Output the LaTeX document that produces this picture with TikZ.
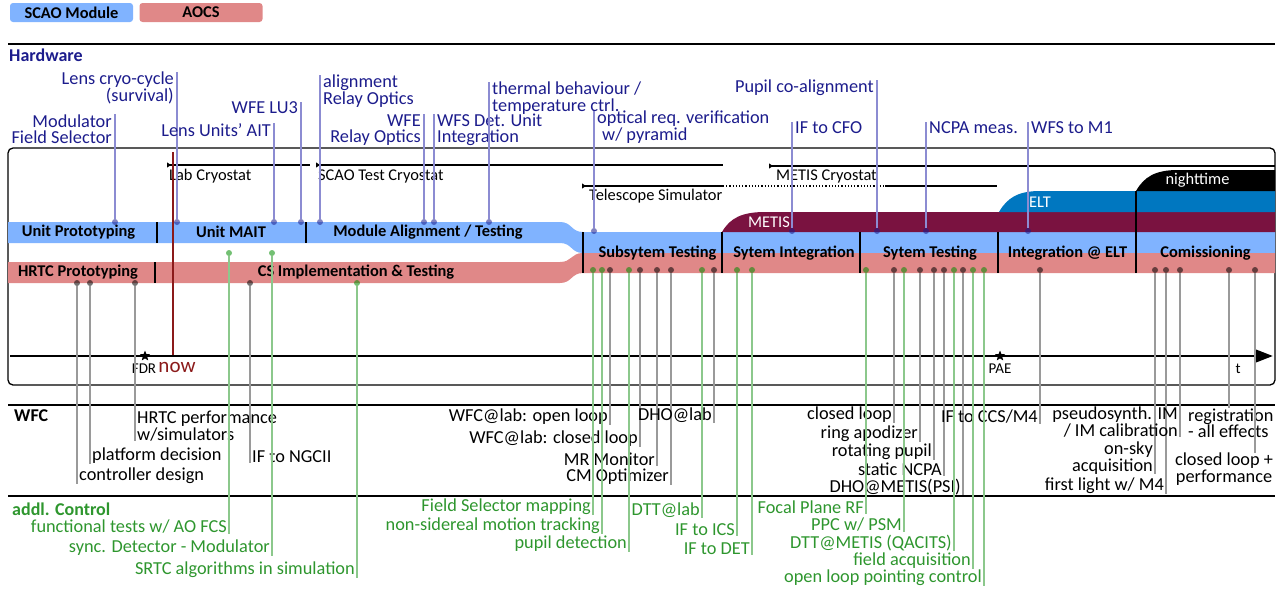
\documentclass[tikz,border=0pt]{standalone}
\usepackage{fontspec}
\setmainfont{Carlito}
\usetikzlibrary{arrows.meta,shapes.geometric}
\definecolor{scao}{HTML}{80B3FF}
\definecolor{aocs}{HTML}{E08888}
\definecolor{metis}{HTML}{7A1240}
\definecolor{elt}{HTML}{0077C0}
\definecolor{hwtext}{HTML}{1C1C8C}
\definecolor{hwline}{HTML}{8C8CD2}
\definecolor{wfcline}{HTML}{9A9A9A}
\definecolor{ctltext}{HTML}{2E962E}
\definecolor{ctlline}{HTML}{8CC88C}
\definecolor{nowred}{HTML}{8B1A1A}
\newcommand{\lblfont}{\fontsize{18.3}{16.5}\selectfont}
\newcommand{\barfont}{\fontsize{16.4}{16}\selectfont\bfseries}
\newcommand{\headfont}{\fontsize{18}{18}\selectfont\bfseries}
\tikzset{
  lbl/.style={inner sep=0pt,font=\lblfont},
  hwlbl/.style={lbl,text=hwtext},
  wfclbl/.style={lbl,text=black},
  ctllbl/.style={lbl,text=ctltext},
  dot/.style={circle,inner sep=0pt,minimum size=6pt,fill opacity=0.55},
  hwpin/.style={draw=hwline,line width=1.2pt},
  wfcpin/.style={draw=wfcline,line width=1.2pt},
  ctlpin/.style={draw=ctlline,line width=1.2pt},
  barlbl/.style={inner sep=0pt,font=\barfont},
  phaselbl/.style={inner sep=0pt,font=\fontsize{16.4}{16}\selectfont,text=white},
  period/.style={line width=1.2pt,{Triangle[length=4pt,width=5pt,reversed]}-},
  periodlbl/.style={inner sep=0pt,anchor=west,font=\fontsize{16.4}{16}\selectfont},
  rule/.style={line width=1.3pt},
  legendbox/.style={rounded corners=3pt,minimum width=123pt,minimum height=19pt,inner sep=0pt,font=\barfont},
  milestone/.style={star,star points=5,star point ratio=2.3,fill=black,inner sep=0pt,minimum size=11pt},
}

\begin{document}
\begin{tikzpicture}[x=1pt,y=-1pt]
  \useasboundingbox (0,0) rectangle (1287,589);
  \node[legendbox,fill=scao] (lgscao) at (71.5,12.5) {SCAO Module};
  \node[legendbox,fill=aocs] (lgaocs) at (201,12.5) {AOCS};

  \draw[rule] (8,44) -- (1275,44);
  \node[anchor=west,inner sep=0pt,font=\headfont,text=hwtext] (hwhead) at (9,55) {Hardware};
  \draw[rule,rounded corners=5pt] (8,148) rectangle (1275,385);
  \draw[rule] (8,405) -- (1275,405);
  \node[anchor=west,inner sep=0pt,font=\headfont] (wfchead) at (14,416) {WFC};
  \draw[rule] (8,496) -- (1275,496);
  \node[anchor=west,inner sep=0pt,font=\headfont,text=ctltext] (ctlhead) at (12,509) {addl. Control};

  % bars
  \fill[scao] (8,222) -- (560,222) .. controls (572,222) and (571,232) .. (583,232) -- (1275,232)
    -- (1275,253) -- (583,253) .. controls (571,253) and (572,243) .. (560,243) -- (8,243) -- cycle;
  \fill[aocs] (8,262) -- (560,262) .. controls (572,262) and (571,253) .. (583,253) -- (1275,253)
    -- (1275,273) -- (583,273) .. controls (571,273) and (572,283) .. (560,283) -- (8,283) -- cycle;
  \fill[metis] (722,232) .. controls (730,218) and (742,212) .. (765,212) -- (1275,212) -- (1275,232) -- cycle;
  \fill[elt] (999,212) .. controls (1007,198) and (1018,191) .. (1040,191) -- (1275,191) -- (1275,212) -- cycle;
  \fill[black] (1136,191) .. controls (1144,177) and (1155,170) .. (1178,170) -- (1275,170) -- (1275,191) -- cycle;
  \draw[rule] (157,222) -- (157,243) (306,222) -- (306,243) (155,262) -- (155,283);
  \foreach \x in {583,722,860,998}
    \draw[rule] (\x,232) -- (\x,273);
  \draw[rule] (1136,191) -- (1136,273);

  \node[barlbl] (up) at (78.5,232) {Unit Prototyping};
  \node[barlbl] (umait) at (231,232) {Unit MAIT};
  \node[barlbl] (modal) at (428,232) {Module Alignment / Testing};
  \node[barlbl] (hrtc) at (78,272) {HRTC Prototyping};
  \node[barlbl] (csimpl) at (356,272) {CS Implementation \& Testing};
  \node[barlbl] (subsys) at (657.5,253) {Subsytem Testing};
  \node[barlbl] (sysint) at (794,253) {Sytem Integration};
  \node[barlbl] (systest) at (930,253) {Sytem Testing};
  \node[barlbl] (eltint) at (1067.5,253) {Integration @ ELT};
  \node[barlbl] (comm) at (1205.5,253) {Comissioning};
  \node[phaselbl] (metislbl) at (769,222) {METIS};
  \node[phaselbl] (eltlbl) at (1040,202) {ELT};
  \node[phaselbl] (nightlbl) at (1197.5,180) {nighttime};

  % test setups
  \draw[period] (167,165) -- (310,165);
  \node[periodlbl] (labcryo) at (169,176) {Lab Cryostat};
  \draw[period] (316,165) -- (723,165);
  \node[periodlbl] (scaocryo) at (318,176) {SCAO Test Cryostat};
  \draw[period] (769,166) -- (1275,166);
  \node[periodlbl] (metiscryo) at (776,176) {METIS Cryostat};
  \draw[period] (582,186) -- (723,186);
  \draw[line width=1.2pt,dotted] (723,186) -- (885,186);
  \draw[line width=1.2pt] (885,186) -- (997,186);
  \node[periodlbl] (telsim) at (589,196) {Telescope Simulator};

  % time axis
  \draw[nowred,line width=1.2pt] (173,152) -- (173,356);
  \draw[line width=2.8pt,-{Triangle[length=18pt,width=13pt]}] (10,356) -- (1273,356);
  \node[milestone] (fdr) at (145,356) {};
  \node[inner sep=0pt,font=\fontsize{15}{15}\selectfont] (fdrlbl) at (144,369) {FDR};
  \node[inner sep=0pt,font=\fontsize{21}{21}\selectfont,text=nowred] (nowlbl) at (177,367) {now};
  \node[milestone] (pae) at (1000,356) {};
  \node[inner sep=0pt,font=\fontsize{15}{15}\selectfont] (paelbl) at (1000,369) {PAE};
  \node[inner sep=0pt,font=\fontsize{15}{15}\selectfont] (tlbl) at (1238,369) {t};

  % hardware milestones
  \foreach \n/\x/\yd/\yl/\txt in {
    1/115/222/129/{Modulator\\Field Selector},
    2/177/222/88/{Lens cryo-cycle\\(survival)},
    3/274/222/130/{Lens Units' AIT},
    4/301/222/108/{WFE LU3},
    6/424/222/130/{WFE\\Relay Optics},
    11/877/231/88/{Pupil co-alignment}}
  {
    \node[hwlbl,anchor=east,align=right] (hw\n) at (\x-3,\yl) {\txt};
    \node[dot,fill=hwtext] (hd\n) at (\x,\yd) {};
    \draw[hwpin] (hd\n) -- (hd\n |- hw\n.north);
  }
  \foreach \n/\x/\yd/\yl/\txt in {
    5/320/222/91/{alignment\\Relay Optics},
    7/434/222/130/{WFS Det. Unit\\Integration},
    8/489/222/98/{thermal behaviour /\\temperature ctrl.},
    9/594/231/127/{optical req. verification\\\hspace*{5pt}w/ pyramid},
    10/792/231/128/{IF to CFO},
    12/926/231/128/{NCPA meas.},
    13/1028/231/128/{WFS to M1}}
  {
    \node[hwlbl,anchor=west,align=left] (hw\n) at (\x+3,\yl) {\txt};
    \node[dot,fill=hwtext] (hd\n) at (\x,\yd) {};
    \draw[hwpin] (hd\n) -- (hd\n |- hw\n.north);
  }

  % WFC milestones
  \foreach \n/\x/\yd/\yl/\txt in {
    1/77/283/476/{controller design},
    2/90/283/456/{platform decision},
    3/135/283/426/{HRTC performance\\w/simulators},
    4/250/283/457/{IF to NGCII}}
  {
    \node[wfclbl,anchor=west,align=left] (wfc\n) at (\x+2,\yl) {\txt};
    \node[dot,fill=black] (wd\n) at (\x,\yd) {};
    \draw[wfcpin] (wd\n) -- (wd\n |- wfc\n.south);
  }
  \foreach \n/\x/\yd/\yl/\txt in {
    5/610/270/417/{WFC@lab: open loop},
    6/640/270/439/{WFC@lab: closed loop},
    7/657/270/459/{MR Monitor},
    8/671/270/477/{CM Optimizer},
    9/714/270/415/{DHO@lab},
    10/894/270/415/{closed loop},
    11/920/270/434/{ring apodizer},
    12/934/270/452/{rotating pupil},
    13/944/270/469/{static NCPA},
    14/963/270/487/{DHO@METIS(PSI)},
    15/1040/270/417/{IF to CCS/M4},
    16/1155/270/458/{on-sky\\acquisition},
    17/1166/270/486/{first light w/ M4},
    18/1180/270/422/{pseudosynth. IM\\/ IM calibration}}
  {
    \node[wfclbl,anchor=east,align=right] (wfc\n) at (\x-2,\yl) {\txt};
    \node[dot,fill=black] (wd\n) at (\x,\yd) {};
    \draw[wfcpin] (wd\n) -- (wd\n |- wfc\n.south);
  }
  \node[wfclbl,anchor=west,align=left] (wfc19) at (1188,423) {registration\\- all effects};
  \node[dot,fill=black] (wd19) at (1229,270) {};
  \draw[wfcpin] (wd19) -- (wd19 |- wfc19.north);
  \node[wfclbl,align=center] (wfc20) at (1224,469) {closed loop +\\performance};
  \node[dot,fill=black] (wd20) at (1255,270) {};
  \draw[wfcpin] (wd20) -- (wd20 |- wfc20.north);

  % additional control milestones
  \foreach \n/\x/\yd/\yl/\txt in {
    1/229/253/527/{functional tests w/ AO FCS},
    2/272/253/548/{sync. Detector - Modulator},
    3/357/283/570/{SRTC algorithms in simulation},
    4/593/270/507/{Field Selector mapping},
    5/602/270/526/{non-sidereal motion tracking},
    6/629/270/544/{pupil detection},
    7/702/270/510/{DTT@lab},
    8/737/270/530/{IF to ICS},
    9/752/270/549/{IF to DET},
    10/866/270/507/{Focal Plane RF},
    11/904/270/525/{PPC w/ PSM},
    12/954/270/543/{DTT@METIS (QACITS)},
    13/973/270/561/{field acquisition},
    14/984/270/578/{open loop pointing control}}
  {
    \node[ctllbl,anchor=east] (ctl\n) at (\x-2,\yl) {\txt};
    \node[dot,fill=green!55!black] (cd\n) at (\x,\yd) {};
    \draw[ctlpin] (cd\n) -- (cd\n |- ctl\n.south);
  }
\end{tikzpicture}
\end{document}
